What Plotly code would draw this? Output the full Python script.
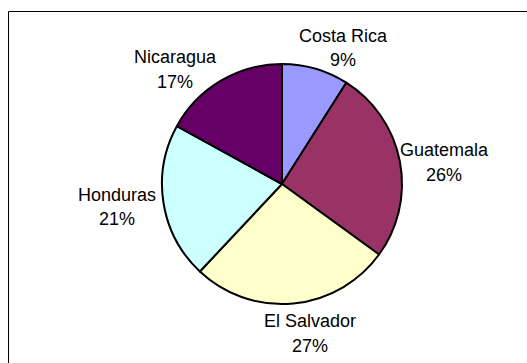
import plotly.graph_objects as go

# Share by country
countries = ["Costa Rica", "Guatemala", "El Salvador", "Honduras", "Nicaragua"]
shares = [9, 26, 27, 21, 17]
slice_colors = ["#9999FF", "#993366", "#FFFFCC", "#CCFFFF", "#660066"]

W, H = 527, 363
cx, cy, r = 282, 184, 120  # pie centre and radius in pixels

# Label block centres, as pixel offsets from the pie centre (best-fit placement)
label_offsets = [(61, -136), (162, -21.5), (28, 149.5), (-165.5, 23), (-107, -114.5)]
line_gap = 25
FONT = dict(family="Liberation Sans, Arial, sans-serif", size=18, color="#000000")

fig = go.Figure(
    go.Pie(
        labels=countries,
        values=shares,
        sort=False,
        direction="clockwise",
        rotation=0,
        marker=dict(colors=slice_colors, line=dict(color="#000000", width=2)),
        textinfo="none",
        showlegend=False,
        hoverinfo="label+percent",
        domain=dict(
            x=[(cx - r) / W, (cx + r) / W],
            y=[(H - cy - r) / H, (H - cy + r) / H],
        ),
    )
)

total = sum(shares)
for name, val, (dx, dy) in zip(countries, shares, label_offsets):
    pct = f"{round(100 * val / total)}%"
    for text, ly in ((name, dy - line_gap / 2), (pct, dy + line_gap / 2)):
        fig.add_annotation(
            x=(cx + dx) / W, y=1 - (cy + ly) / H, xref="paper", yref="paper",
            text=text, showarrow=False, xanchor="center", yanchor="middle",
            font=FONT,
        )

# Chart frame (top and left edges fall inside the canvas)
fx, fy = 8.5 / W, 1 - 11.5 / H
fig.add_shape(type="line", xref="paper", yref="paper", x0=fx, y0=fy, x1=1.02, y1=fy,
              line=dict(color="#000000", width=1))
fig.add_shape(type="line", xref="paper", yref="paper", x0=fx, y0=fy, x1=fx, y1=-0.02,
              line=dict(color="#000000", width=1))

fig.update_layout(
    width=W,
    height=H,
    margin=dict(l=0, r=0, t=0, b=0),
    paper_bgcolor="#FFFFFF",
    plot_bgcolor="#FFFFFF",
)

fig.write_html("out.html")
